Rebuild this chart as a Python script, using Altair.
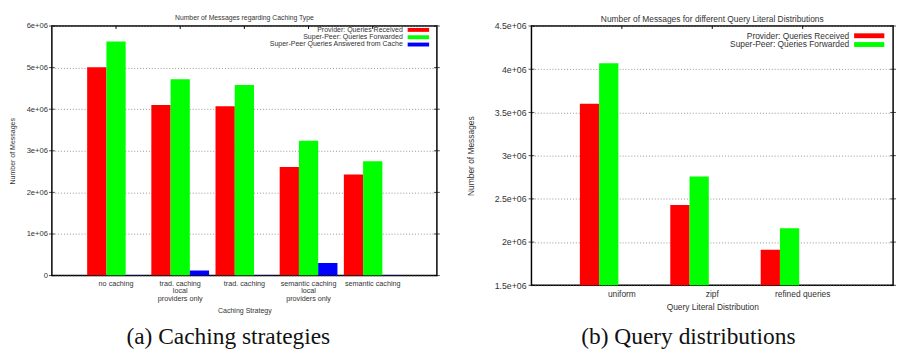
import altair as alt
import pandas as pd

# ---------------- Panel (a): caching strategies ----------------
strategies = [
    "no caching",
    "trad. caching\nlocal\nproviders only",
    "trad. caching",
    "semantic caching\nlocal\nproviders only",
    "semantic caching",
]
series_a = [
    "Provider: Queries Received",
    "Super-Peer: Queries Forwarded",
    "Super-Peer Queries Answered from Cache",
]
provider_received_a = [5010000, 4100000, 4070000, 2610000, 2430000]
superpeer_forwarded_a = [5630000, 4720000, 4580000, 3240000, 2750000]
answered_from_cache_a = [15000, 120000, 15000, 300000, 15000]
yticks_a = [0, 1000000, 2000000, 3000000, 4000000, 5000000, 6000000]

# ---------------- Panel (b): query distributions ----------------
distributions = ["uniform", "zipf", "refined queries"]
series_b = ["Provider: Queries Received", "Super-Peer: Queries Forwarded"]
provider_received_b = [3600000, 2430000, 1910000]
superpeer_forwarded_b = [4070000, 2760000, 2160000]
yticks_b = [1500000, 2000000, 2500000, 3000000, 3500000, 4000000, 4500000]

colors = ["#ff0000", "#00ff00", "#0000ff"]

FONT = "Liberation Sans"
TXT = "#333333"
LABEL_EXPR_Y = "datum.value == 0 ? '0' : replace(format(datum.value, '~e'), 'e+', 'e+0')"


def long_df(cats, series, columns):
    rows = []
    for s, vals in zip(series, columns):
        for c, v in zip(cats, vals):
            rows.append({"cat": c, "series": s, "value": v})
    return pd.DataFrame(rows)


df_a = long_df(strategies, series_a,
               [provider_received_a, superpeer_forwarded_a, answered_from_cache_a])
df_b = long_df(distributions, series_b,
               [provider_received_b, superpeer_forwarded_b])


def panel(df, cats, series, yticks, ydomain, width, height, fs_title, fs_xlab, fs_ylab,
          fs_txt, title, xtitle, caption, off_pad, ytitle_pad, ylab_pad, leg_x, leg_rows,
          leg_sw, leg_thick, cap_x, cap_y, title_y, line_h):
    color = alt.Color("series:N", scale=alt.Scale(domain=series, range=colors[:len(series)]),
                      legend=None)
    xscale = alt.Scale(paddingInner=0, paddingOuter=0.5)
    yscale = alt.Scale(domain=ydomain, nice=False, zero=False)
    bars = alt.Chart(df).mark_bar(clip=True).encode(
        x=alt.X("cat:N", sort=cats, scale=xscale,
                axis=alt.Axis(title=xtitle, labelAngle=0, grid=False, ticks=False,
                              domain=False,
                              labelExpr="split(datum.label, '\\n')",
                              labelLineHeight=line_h, labelPadding=4, titlePadding=5,
                              labelFontSize=fs_xlab, titleFontSize=fs_txt, labelFont=FONT,
                              titleFont=FONT, labelColor=TXT, titleColor=TXT,
                              titleFontWeight="normal")),
        xOffset=alt.XOffset("series:N", sort=series,
                            scale=alt.Scale(paddingInner=0, paddingOuter=off_pad)),
        y=alt.Y("value:Q", scale=yscale,
                axis=alt.Axis(title="Number of Messages", values=yticks,
                              labelExpr=LABEL_EXPR_Y, ticks=False, domain=False,
                              grid=True, gridDash=[1, 2], gridColor="#777777",
                              gridWidth=0.8, labelPadding=ylab_pad, titlePadding=ytitle_pad,
                              labelFontSize=fs_ylab, titleFontSize=fs_txt, labelFont=FONT,
                              titleFont=FONT, labelColor=TXT, titleColor=TXT,
                              titleFontWeight="normal")),
        color=color,
    )
    # inward border ticks (left and right borders, top border at categories)
    tick_df = pd.DataFrame({"tick": yticks})
    ytick_l = alt.Chart(tick_df).mark_tick(color="black", thickness=1, size=6).encode(
        x=alt.value(0), y=alt.Y("tick:Q", scale=yscale, axis=None))
    ytick_r = alt.Chart(tick_df).mark_tick(color="black", thickness=1, size=6).encode(
        x=alt.value(width), y=alt.Y("tick:Q", scale=yscale, axis=None))
    xtick_t = alt.Chart(pd.DataFrame({"cat": cats})).mark_rule(
        color="black", strokeWidth=1).encode(
        x=alt.X("cat:N", sort=cats, scale=xscale), y=alt.value(0), y2=alt.value(3))

    leg_df = pd.DataFrame({"series": series})
    leg_y = alt.Y("series:N", sort=series,
                  scale=alt.Scale(type="point", padding=0, range=leg_rows), axis=None)
    leg_text = alt.Chart(leg_df).mark_text(
        align="right", baseline="middle", fontSize=fs_txt, font=FONT, color=TXT
    ).encode(x=alt.value(leg_x), y=leg_y, text="series:N")
    leg_sw_mark = alt.Chart(leg_df).mark_rule(strokeWidth=leg_thick).encode(
        x=alt.value(leg_sw[0]), x2=alt.value(leg_sw[1]), y=leg_y, color=color)
    ttl = alt.Chart(pd.DataFrame({"title": [title]})).mark_text(
        font=FONT, fontSize=fs_title, color=TXT, baseline="middle", align="center"
    ).encode(x=alt.value(width / 2), y=alt.value(title_y), text="title:N")
    cap = alt.Chart(pd.DataFrame({"caption": [caption]})).mark_text(
        font="Liberation Serif", fontSize=24, color="#111111", baseline="alphabetic"
    ).encode(x=alt.value(cap_x), y=alt.value(cap_y), text="caption:N")
    return alt.layer(bars, ytick_l, ytick_r, xtick_t, leg_text, leg_sw_mark, ttl, cap
                     ).resolve_scale(y="independent").properties(
        width=width, height=height)


P = 20  # plot top (page px)
left = panel(df_a, strategies, series_a, yticks_a, [0, 6000000], 395, 276 - P,
             7, 7.4, 7.8, 7.2,
             "Number of Messages regarding Caching Type", "Caching Strategy",
             "(a) Caching strategies", 1 / 6, 9.5, 4.5, 360, [24 - P, 39 - P],
             (365, 387), 4, 181, 346 - P, 11.6 - P, 7.8)
right = panel(df_b, distributions, series_b, yticks_b, [1500000, 4500000], 371, 286 - P,
              8.6, 8.6, 9, 8.6,
              "Number of Messages for different Query Literal Distributions",
              "Query Literal Distribution", "(b) Query distributions", 2 / 3, 19, 5.5,
              326, [30 - P, 39 - P], (331, 362), 5, 161, 346 - P, 12.5 - P, 9)

chart = alt.hconcat(left, right, spacing=25).properties(
    padding={"left": 0, "top": 0, "right": 0, "bottom": 0}
).configure_view(stroke="black", strokeWidth=1.5)

chart.save("out.html", embed_options={"renderer": "svg", "actions": False})
